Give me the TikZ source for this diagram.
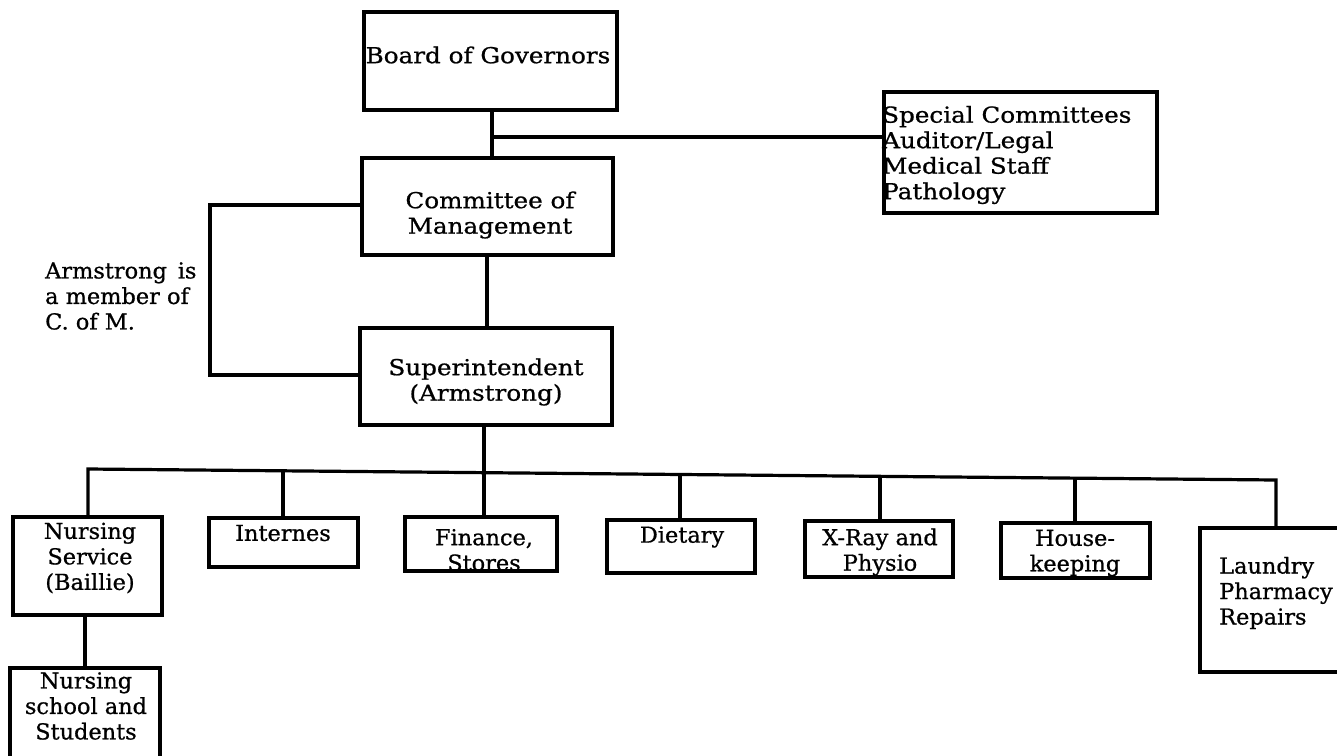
\documentclass[tikz,border=0pt]{standalone}
\usepackage{fontspec}
\setmainfont{DejaVu Serif}[FakeStretch=1.12, FakeBold=0.8]
\newfontfamily\narrowserif{DejaVu Serif}[FakeStretch=1.02, FakeBold=0.8]
\usetikzlibrary{calc}
\begin{document}
\begin{tikzpicture}[x=1pt,y=-1pt,
  box/.style={draw, line width=3.4pt, rectangle, inner sep=0pt},
  lbl/.style={inner sep=0pt, align=center, font=\fontsize{22}{25.5}\selectfont},
  lbll/.style={inner sep=0pt, align=left, font=\fontsize{22}{25.5}\selectfont},
  nlbl/.style={inner sep=0pt, align=center, font=\narrowserif\fontsize{22}{25.5}\selectfont},
  nlbll/.style={inner sep=0pt, align=left, font=\narrowserif\fontsize{22}{25.5}\selectfont},
  conn/.style={line width=3.2pt}]
\useasboundingbox (0,0) rectangle (1337,755);
\clip (0,0) rectangle (1337,755);
% boxes: centre (x,y), width, height
\node[box, minimum width=253pt, minimum height=98pt]  (bog)  at (490.5,61) {};
\node[box, minimum width=273pt, minimum height=121pt] (spec) at (1020.5,152.5) {};
\node[box, minimum width=251pt, minimum height=97pt]  (com)  at (487.5,206.5) {};
\node[box, minimum width=252pt, minimum height=97pt]  (sup)  at (486,376.5) {};
\node[box, minimum width=149pt, minimum height=98pt]  (ns)   at (87.5,566) {};
\node[box, minimum width=150pt, minimum height=100pt] (nsch) at (85,718) {};
\node[box, minimum width=149pt, minimum height=49pt]  (int)  at (283.5,542.5) {};
\node[box, minimum width=152pt, minimum height=54pt]  (fin)  at (481,544) {};
\node[box, minimum width=148pt, minimum height=53pt]  (diet) at (681,546.5) {};
\node[box, minimum width=148pt, minimum height=56pt]  (xray) at (879,549) {};
\node[box, minimum width=149pt, minimum height=55pt]  (house) at (1075.5,550.5) {};
\node[box, minimum width=150pt, minimum height=144pt] (laun) at (1275,600) {};
% texts
\node[lbl]  (tbog)  at (488,55) {Board of Governors};
\node[lbll, anchor=west] (tspec) at (882,155) {Special Committees\\Auditor/Legal\\Medical Staff\\Pathology};
\node[lbl]  (tcom)  at (490,215) {Committee of\\Management};
\node[nlbll, anchor=west] (tarm) at (45,296) {Armstrong\ \,is\\a member of\\C. of M.};
\node[lbl]  (tsup)  at (486,382) {Superintendent\\(Armstrong)};
\node[nlbl]  (tns)   at (90,558) {Nursing\\Service\\(Baillie)};
\node[nlbl]  (tnsch) at (86,706) {Nursing\\school and\\Students};
\node[nlbl]  (tint)  at (283,533) {Internes};
\node[nlbl]  (tfin)  at (484,550) {Finance,\\Stores};
\node[nlbl]  (tdiet) at (682,537) {Dietary};
\node[nlbl]  (txray) at (880,552) {X-Ray and\\Physio};
\node[nlbl]  (thouse) at (1075,553) {House-\\keeping};
\node[nlbll, anchor=west] (tlaun) at (1219,593) {Laundry\\Pharmacy\\Repairs};
% connector points
\coordinate (jspec) at (492,137);
\coordinate (brT) at (210,205);
\coordinate (brB) at (210,375);
\coordinate (busL) at (88,469);
\coordinate (bSup) at (484,472.7);
\coordinate (bInt) at (283,470.8);
\coordinate (bFin) at (484,472.7);
\coordinate (bDiet) at (680,474.5);
\coordinate (bXray) at (880,476.3);
\coordinate (bHouse) at (1075,478.1);
\coordinate (busR) at (1276,480);
% connectors
\draw[conn] (bog.south -| jspec) -- (com.north -| jspec);
\draw[conn] (jspec) -- (jspec -| spec.west);
\draw[conn] (com.south -| 487,0) -- (sup.north -| 487,0);
\draw[conn, line join=miter] (com.west |- brT) -- (brT) -- (brB) -- (sup.west |- brB);
\draw[conn] (sup.south -| bSup) -- (bSup);
\draw[conn, line join=miter] (busL |- ns.north) -- (busL) -- (busR) -- (busR |- laun.north);
\draw[conn] (bInt) -- (bInt |- int.north);
\draw[conn] (bFin) -- (bFin |- fin.north);
\draw[conn] (bDiet) -- (bDiet |- diet.north);
\draw[conn] (bXray) -- (bXray |- xray.north);
\draw[conn] (bHouse) -- (bHouse |- house.north);
\draw[conn] (ns.south -| 85,0) -- (nsch.north -| 85,0);
\end{tikzpicture}
\end{document}
